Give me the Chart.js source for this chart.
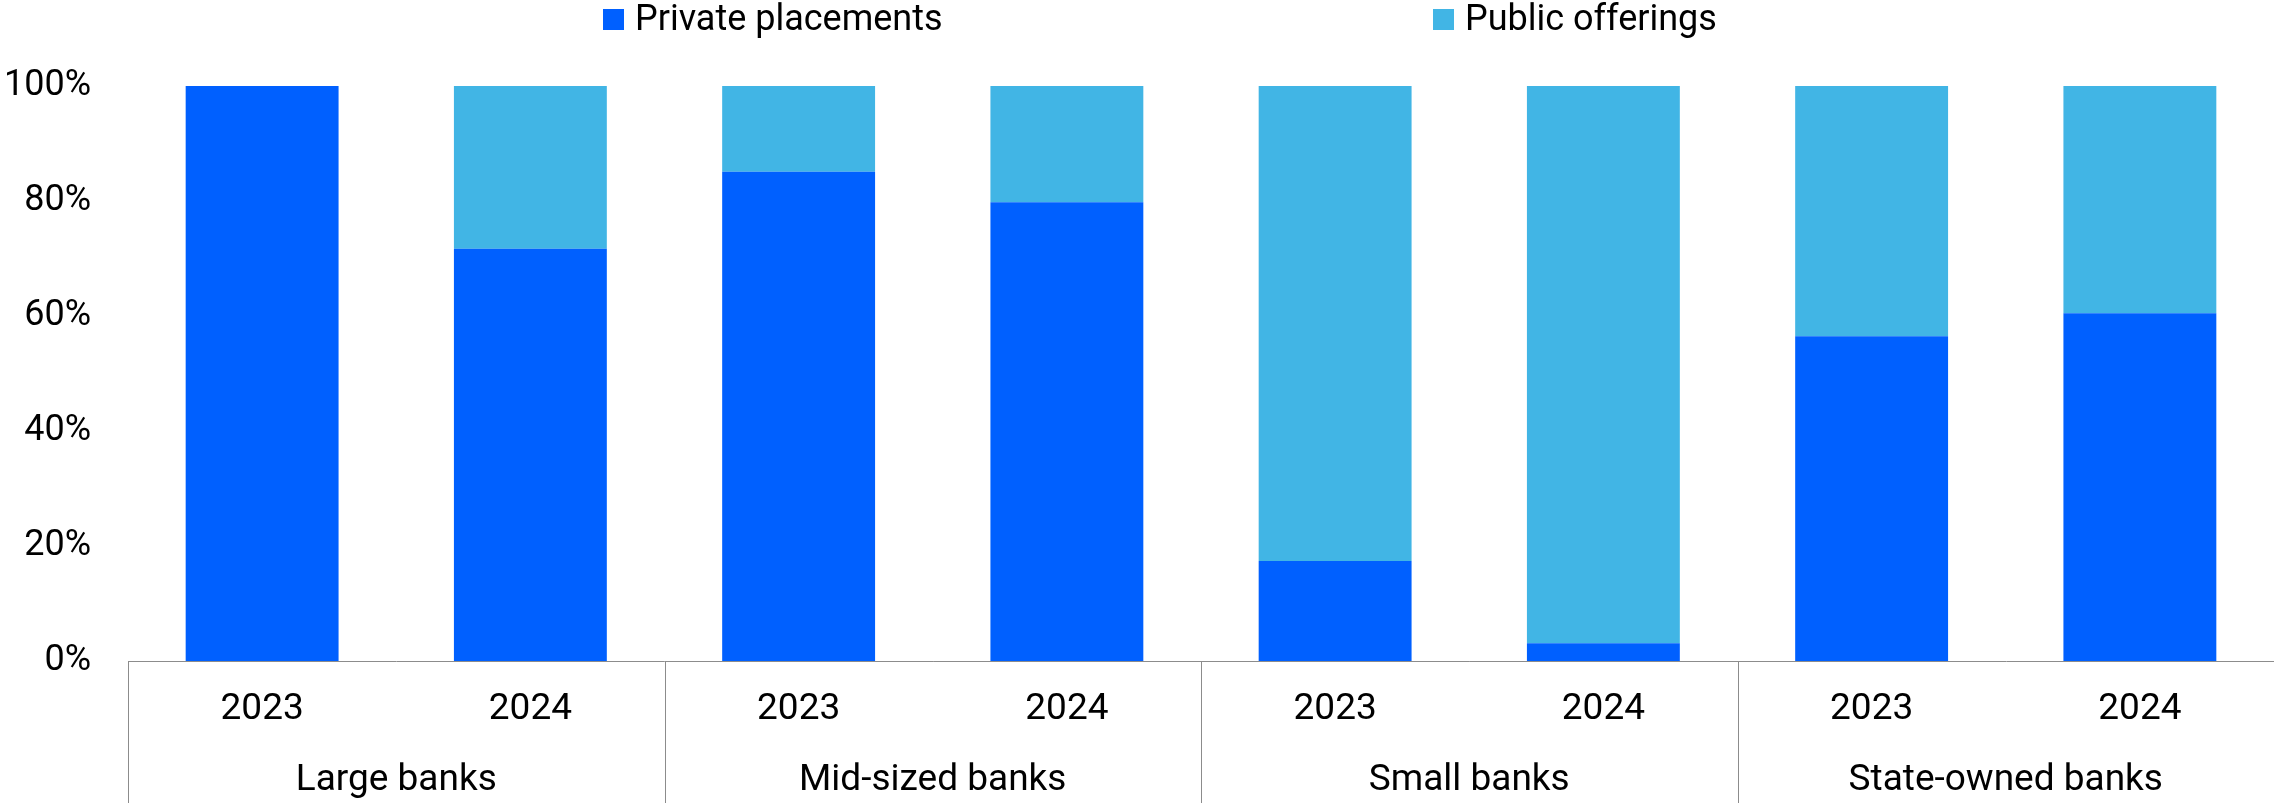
<!DOCTYPE html>
<html>
<head>
<meta charset="utf-8">
<script src="https://cdn.jsdelivr.net/npm/chart.js@4.4.1/dist/chart.umd.min.js"></script>
<style>
    html, body { margin: 0; padding: 0; background: #fff; }
    #wrap { width: 2274px; height: 803px; }
</style>
</head>
<body>
<div id="wrap"><canvas id="issuance-mix" width="2274" height="803"></canvas></div>
<script>
(function () {
    "use strict";

    // Data
    var groups = ["Large banks", "Mid-sized banks", "Small banks", "State-owned banks"];
    var years = ["2023", "2024", "2023", "2024", "2023", "2024", "2023", "2024"];
    var privatePlacements = [100, 71.7, 85.1, 79.8, 17.4, 3.1, 56.5, 60.5];
    var publicOfferings = [0, 28.3, 14.9, 20.2, 82.6, 96.9, 43.5, 39.5];
    var yTicks = [0, 20, 40, 60, 80, 100];

    var BLUE = "#0060ff";
    var SKY = "#41b5e5";
    var AXIS_GRAY = "#8c8c8c";
    var FONT = "Roboto, 'Noto Sans', sans-serif";

    Chart.defaults.font.family = FONT;
    Chart.defaults.color = "#000";

    // Legend drawn as a single row above the plot
    var legendX = [603, 1433];
    var topLegend = {
        id: "topLegend",
        afterDraw: function (chart) {
            var ctx = chart.ctx;
            ctx.save();
            ctx.font = "36px " + FONT;
            ctx.textBaseline = "alphabetic";
            ctx.textAlign = "left";
            chart.data.datasets.forEach(function (ds, i) {
                var x = legendX[i];
                ctx.fillStyle = ds.backgroundColor;
                ctx.fillRect(x, 9, 21, 21);
                ctx.fillStyle = "#000";
                ctx.fillText(ds.label, x + 32, 30);
            });
            ctx.restore();
        }
    };

    // Vertical dividers at the left edge of each bank group, through both label rows
    var groupDividers = {
        id: "groupDividers",
        afterDraw: function (chart) {
            var gs = chart.scales.groups;
            var xs = chart.scales.x;
            var step = gs.getPixelForTick(1) - gs.getPixelForTick(0);
            var ctx = chart.ctx;
            ctx.save();
            ctx.strokeStyle = AXIS_GRAY;
            ctx.lineWidth = 1;
            ctx.beginPath();
            for (var i = 0; i < groups.length; i++) {
                var px = Math.round(gs.getPixelForTick(i) - step / 2) + 0.5;
                ctx.moveTo(px, xs.top);
                ctx.lineTo(px, chart.height);
            }
            ctx.stroke();
            ctx.restore();
        }
    };

    var ctx1 = document.getElementById("issuance-mix").getContext("2d");
    var myChart1 = new Chart(ctx1, {
        type: "bar",
        data: {
            labels: years,
            datasets: [{
                    label: "Private placements",
                    data: privatePlacements,
                    backgroundColor: BLUE
                },
                {
                    label: "Public offerings",
                    data: publicOfferings,
                    backgroundColor: SKY
                }
            ]
        },
        options: {
            responsive: false,
            animation: false,
            devicePixelRatio: 1,
            layout: {
                padding: { top: 86, left: 0, right: 0, bottom: 3 }
            },
            datasets: {
                bar: {
                    categoryPercentage: 1,
                    barPercentage: 0.57,
                    borderWidth: 0
                }
            },
            plugins: {
                legend: { display: false },
                tooltip: { enabled: false }
            },
            scales: {
                x: {
                    stacked: true,
                    offset: true,
                    weight: 0,
                    afterFit: function (scale) { scale.height = 68; },
                    grid: { display: false, drawTicks: false },
                    border: { display: true, color: AXIS_GRAY, width: 1 },
                    ticks: {
                        font: { size: 37 },
                        color: "#000",
                        padding: 27,
                        maxRotation: 0,
                        autoSkip: false
                    }
                },
                groups: {
                    type: "category",
                    labels: groups,
                    position: "bottom",
                    offset: true,
                    weight: 1,
                    afterFit: function (scale) { scale.height = 71; },
                    grid: { display: false, drawTicks: false },
                    border: { display: false },
                    ticks: {
                        font: { size: 37 },
                        color: "#000",
                        padding: 30,
                        maxRotation: 0,
                        autoSkip: false
                    }
                },
                y: {
                    stacked: true,
                    min: 0,
                    max: 100,
                    afterFit: function (scale) { scale.width = 128; },
                    afterBuildTicks: function (scale) {
                        scale.ticks = yTicks.map(function (v) { return { value: v }; });
                    },
                    grid: { display: false, drawTicks: false },
                    border: { display: false },
                    ticks: {
                        font: { size: 36 },
                        color: "#000",
                        padding: 37,
                        callback: function (v) { return v + "%"; }
                    }
                }
            }
        },
        plugins: [topLegend, groupDividers]
    });
})();
</script>
</body>
</html>
